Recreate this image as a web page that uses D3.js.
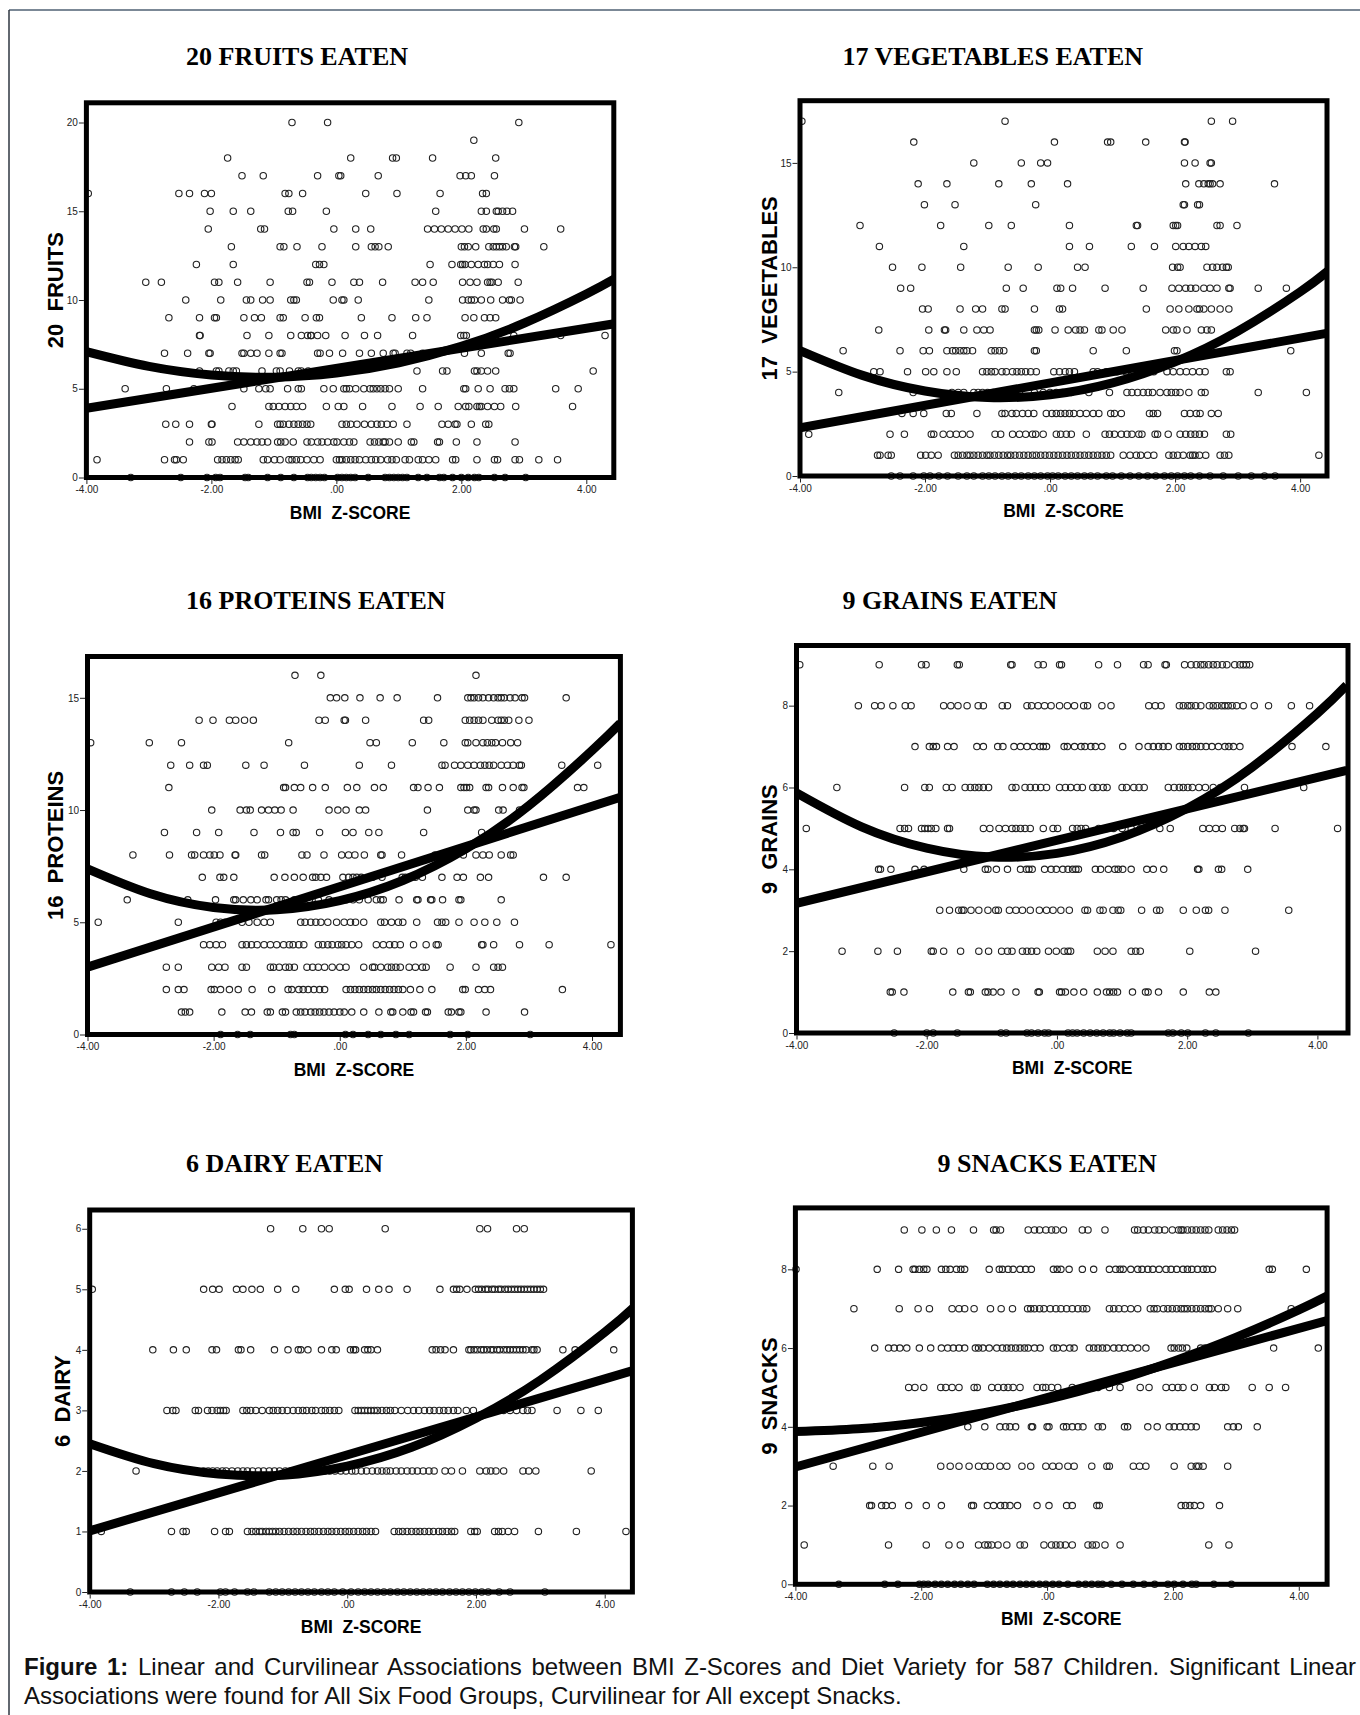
<!DOCTYPE html>
<html>
<head>
<meta charset="utf-8">
<script src="https://cdn.jsdelivr.net/npm/d3@7/dist/d3.min.js"></script>
<style>
  body { margin: 0; background: #fff; }
  svg { display: block; }
</style>
</head>
<body>
<svg id="fig" width="1360" height="1715"></svg>
<script>
// ---- data: each row is [count, [BMI z-scores of children with that count]] ----
const fruitsRows = [
  [20, [-0.71,-0.14,2.92]],
  [19, [2.20]],
  [18, [-1.74,0.23,0.90,0.96,1.54,2.55]],
  [17, [-1.51,-1.17,-0.30,0.04,0.07,0.67,1.98,2.07,2.16,2.53]],
  [16, [-3.97,-2.52,-2.35,-2.11,-2.00,-0.82,-0.76,-0.54,0.47,0.97,1.66,2.34,2.40]],
  [15, [-2.02,-1.65,-1.37,-0.77,-0.70,-0.16,1.59,2.32,2.40,2.56,2.59,2.66,2.73,2.82]],
  [14, [-2.05,-1.21,-1.15,-0.04,0.31,0.55,1.46,1.57,1.68,1.79,1.90,2.01,2.12,2.35,2.40,2.52,2.56,3.01,3.59]],
  [13, [-1.68,-0.90,-0.84,-0.63,-0.23,0.31,0.56,0.62,0.68,0.83,2.00,2.05,2.11,2.23,2.44,2.51,2.56,2.61,2.66,2.72,2.85,2.87,3.32]],
  [12, [-2.24,-1.65,-0.33,-0.27,-0.20,1.50,1.85,1.99,2.02,2.06,2.16,2.27,2.37,2.42,2.51,2.61,2.86]],
  [11, [-3.05,-2.80,-1.95,-1.88,-1.58,-1.06,-0.47,-0.43,-0.07,0.28,0.37,0.74,1.26,1.38,1.55,2.02,2.14,2.25,2.42,2.46,2.49,2.59,2.91]],
  [10, [-2.41,-1.85,-1.44,-1.37,-1.18,-1.06,-0.73,-0.68,-0.64,-0.05,0.09,0.12,0.35,1.48,2.02,2.11,2.16,2.21,2.32,2.47,2.66,2.77,2.80,2.94]],
  [9, [-2.68,-2.19,-1.95,-1.92,-1.48,-1.31,-1.20,-0.90,-0.85,-0.50,-0.32,-0.27,0.40,0.89,1.27,1.45,2.06,2.20,2.37,2.46,2.55]],
  [8, [-2.19,-2.18,-1.43,-1.08,-0.73,-0.56,-0.46,-0.41,-0.40,-0.30,-0.17,0.14,0.45,0.66,1.22,1.99,2.04,2.08,2.49,2.84,3.59,4.30]],
  [7, [-2.75,-2.38,-2.04,-2.02,-1.51,-1.48,-1.37,-1.27,-1.08,-0.90,-0.87,-0.30,-0.26,-0.11,0.10,0.37,0.56,0.75,0.91,0.94,1.13,1.19,1.38,2.05,2.32,2.75,2.78]],
  [6, [-2.19,-1.92,-1.88,-1.72,-1.65,-1.60,-1.19,-0.96,-0.90,-0.75,-0.61,-0.56,-0.45,1.29,1.70,1.77,2.21,2.25,2.32,2.42,2.55,4.11]],
  [5, [-3.38,-2.72,-2.28,-1.48,-1.24,-1.13,-1.06,-0.78,-0.61,-0.56,-0.20,-0.05,0.12,0.16,0.21,0.31,0.44,0.54,0.59,0.65,0.71,0.78,0.85,0.99,1.38,2.04,2.07,2.27,2.46,2.70,2.77,2.84,3.51,3.87]],
  [4, [-1.67,-1.08,-1.01,-0.92,-0.82,-0.73,-0.64,-0.54,-0.16,0.03,0.12,0.42,0.89,1.34,1.63,1.95,2.07,2.12,2.25,2.29,2.32,2.42,2.53,2.63,2.87,3.78]],
  [3, [-2.73,-2.57,-2.35,-2.00,-1.99,-1.24,-0.94,-0.90,-0.85,-0.76,-0.68,-0.61,-0.54,-0.47,-0.41,0.09,0.16,0.23,0.33,0.45,0.56,0.65,0.72,0.81,0.91,1.13,1.69,1.79,1.90,1.93,2.16,2.39,2.44]],
  [2, [-2.35,-2.04,-1.99,-1.58,-1.48,-1.37,-1.27,-1.19,-1.10,-0.94,-0.89,-0.82,-0.69,-0.47,-0.40,-0.30,-0.23,-0.14,-0.04,0.01,0.12,0.21,0.28,0.54,0.61,0.68,0.75,0.78,0.85,0.99,1.20,1.24,1.62,1.65,1.92,2.25,2.86]],
  [1, [-3.83,-2.75,-2.59,-2.56,-2.45,-1.90,-1.83,-1.76,-1.69,-1.62,-1.57,-1.17,-1.10,-0.99,-0.90,-0.76,-0.71,-0.64,-0.57,-0.47,-0.36,-0.26,0.00,0.05,0.09,0.16,0.23,0.30,0.37,0.47,0.56,0.63,0.71,0.82,0.89,0.96,1.10,1.17,1.31,1.38,1.48,1.59,1.86,1.91,2.25,2.53,2.58,2.86,2.93,3.24,3.54]],
  [0, [-3.29,-2.49,-2.07,-1.93,-1.86,-1.46,-1.41,-1.10,-0.89,-0.68,-0.46,-0.40,-0.33,-0.26,-0.19,0.02,0.09,0.16,0.23,0.30,0.51,0.78,0.85,0.92,0.99,1.06,1.13,1.31,1.45,1.65,1.72,1.86,2.00,2.11,2.21,2.28,2.53,2.70,3.03]]
];

const vegRows = [
  [17, [-3.97,-0.72,2.58,2.92]],
  [16, [-2.18,0.07,0.92,0.97,1.53,2.15,2.16]],
  [15, [-1.22,-0.46,-0.15,-0.04,2.15,2.32,2.56,2.58]],
  [14, [-2.11,-1.65,-0.82,-0.30,0.28,2.17,2.38,2.46,2.53,2.56,2.60,2.72,3.59]],
  [13, [-2.01,-1.52,-0.23,2.13,2.15,2.36,2.39]],
  [12, [-3.04,-1.75,-0.98,-0.62,0.31,1.38,1.40,1.97,2.01,2.04,2.67,2.72,2.99]],
  [11, [-2.73,-1.38,0.31,0.63,1.30,1.67,2.01,2.13,2.22,2.32,2.42,2.49]],
  [10, [-2.52,-2.05,-1.43,-0.67,-0.19,0.44,0.56,1.96,2.04,2.08,2.51,2.60,2.67,2.76,2.82,2.85]],
  [9, [-2.39,-2.23,-0.70,-0.43,0.11,0.17,0.36,0.88,1.49,1.95,2.06,2.17,2.25,2.33,2.46,2.56,2.67,2.86,2.88,3.33,3.78]],
  [8, [-2.04,-1.95,-1.44,-1.19,-1.08,-0.77,-0.72,-0.25,0.15,0.20,1.54,1.92,2.06,2.22,2.35,2.39,2.46,2.58,2.72,2.86]],
  [7, [-2.74,-1.94,-1.69,-1.67,-1.38,-1.17,-1.06,-0.96,-0.25,-0.22,-0.18,0.08,0.29,0.41,0.48,0.55,0.78,0.83,1.01,1.15,1.85,1.97,2.03,2.19,2.42,2.51,2.58]],
  [6, [-3.31,-2.40,-2.03,-1.93,-1.65,-1.56,-1.51,-1.44,-1.38,-1.33,-1.24,-0.94,-0.88,-0.81,-0.74,-0.25,-0.22,0.69,1.22,1.99,2.03,3.85]],
  [5, [-2.82,-2.72,-2.28,-1.99,-1.86,-1.65,-1.50,-1.08,-1.01,-0.94,-0.88,-0.77,-0.70,-0.60,-0.53,-0.46,-0.39,-0.31,-0.22,0.06,0.15,0.24,0.31,0.39,0.69,0.76,0.90,0.97,1.07,1.21,1.31,1.42,1.56,1.66,1.87,1.97,2.08,2.18,2.28,2.39,2.48,2.82,2.88]],
  [4, [-3.38,-2.19,-1.57,-1.47,-1.38,-1.22,-1.15,-1.08,-1.00,-0.91,-0.81,-0.70,-0.60,-0.49,-0.25,-0.11,0.00,0.10,0.20,0.34,0.62,0.95,1.23,1.31,1.40,1.49,1.57,1.64,1.76,1.87,1.94,2.01,2.08,2.22,2.42,2.48,3.33,4.10]],
  [3, [-2.37,-2.19,-2.02,-1.66,-1.58,-1.17,-0.77,-0.72,-0.61,-0.54,-0.44,-0.35,-0.26,-0.06,0.03,0.10,0.17,0.24,0.31,0.38,0.48,0.58,0.69,0.78,0.97,1.03,1.14,1.59,1.65,1.72,2.15,2.24,2.34,2.40,2.58,2.69]],
  [2, [-3.86,-2.56,-2.33,-1.90,-1.86,-1.71,-1.60,-1.50,-1.40,-1.28,-0.88,-0.79,-0.60,-0.49,-0.39,-0.28,-0.23,-0.11,0.10,0.17,0.26,0.34,0.58,0.88,0.95,1.03,1.14,1.23,1.31,1.42,1.47,1.68,1.72,1.89,2.08,2.17,2.25,2.32,2.39,2.47,2.82,2.89]],
  [1, [-2.76,-2.72,-2.59,-2.54,-2.07,-1.99,-1.90,-1.79,-1.53,-1.47,-1.40,-1.33,-1.28,-1.22,-1.15,-1.08,-1.01,-0.96,-0.89,-0.82,-0.75,-0.68,-0.63,-0.56,-0.49,-0.42,-0.35,-0.28,-0.22,-0.15,-0.08,-0.01,0.06,0.13,0.20,0.27,0.34,0.41,0.48,0.55,0.62,0.69,0.76,0.83,0.90,0.97,1.17,1.28,1.38,1.45,1.56,1.66,1.90,1.97,2.04,2.13,2.24,2.28,2.32,2.39,2.49,2.72,2.79,2.86,4.30]],
  [0, [-2.54,-2.40,-2.19,-2.02,-1.92,-1.78,-1.64,-1.47,-1.33,-1.22,-1.08,-0.98,-0.88,-0.77,-0.67,-0.56,-0.46,-0.35,-0.25,-0.15,-0.04,0.04,0.13,0.24,0.34,0.44,0.55,0.65,0.76,0.90,1.00,1.14,1.28,1.42,1.56,1.69,1.83,1.94,2.04,2.15,2.25,2.39,2.56,2.77,3.01,3.22,3.43,3.60]]
];

const proteinRows = [
  [16, [-0.71,-0.30,2.16]],
  [15, [-0.15,-0.05,0.08,0.32,0.64,0.91,1.55,2.03,2.08,2.13,2.20,2.27,2.36,2.44,2.51,2.56,2.61,2.70,2.78,2.89,2.93,3.59]],
  [14, [-2.23,-2.01,-1.75,-1.65,-1.51,-1.37,-0.33,-0.23,0.07,0.09,0.41,1.33,1.41,1.99,2.06,2.13,2.20,2.27,2.41,2.51,2.56,2.61,2.68,2.84,3.00]],
  [13, [-3.95,-3.02,-2.51,-0.81,0.48,0.58,1.15,1.65,1.99,2.03,2.16,2.27,2.34,2.41,2.47,2.58,2.71,2.82]],
  [12, [-2.68,-2.38,-2.16,-2.10,-1.49,-1.20,-0.56,0.31,0.82,1.62,1.67,1.82,1.92,2.03,2.13,2.23,2.30,2.37,2.44,2.56,2.66,2.75,2.85,2.88,3.52,4.09]],
  [11, [-2.71,-0.89,-0.86,-0.72,-0.62,-0.43,-0.23,0.12,0.27,0.55,0.69,1.17,1.24,1.40,1.58,1.92,1.97,2.01,2.06,2.32,2.36,2.58,2.75,2.89,2.92,3.77,3.87]],
  [10, [-2.03,-1.58,-1.48,-1.42,-1.24,-1.13,-1.03,-0.93,-0.74,-0.17,-0.03,0.10,0.31,0.41,1.39,2.03,2.13,2.16,2.52,2.59,2.85]],
  [9, [-2.78,-2.27,-1.92,-1.36,-0.94,-0.74,-0.69,-0.32,0.09,0.21,0.46,0.62,1.33,2.25]],
  [8, [-3.28,-2.70,-2.35,-2.30,-2.16,-2.06,-1.99,-1.90,-1.66,-1.65,-1.24,-1.19,-0.60,-0.52,-0.25,0.03,0.14,0.24,0.39,0.65,0.67,0.98,1.51,1.96,2.16,2.27,2.37,2.56,2.71,2.75]],
  [7, [-2.18,-1.90,-1.84,-1.68,-1.04,-0.87,-0.72,-0.58,-0.43,-0.38,-0.30,-0.21,0.05,0.14,0.21,0.27,0.34,0.52,0.67,0.99,1.04,1.10,1.20,1.31,1.62,1.86,1.96,2.23,2.36,3.23,3.59]],
  [6, [-3.37,-2.41,-1.97,-1.68,-1.65,-1.53,-1.41,-1.31,-1.17,-1.13,-1.00,-0.93,-0.86,-0.72,-0.58,-0.48,-0.34,-0.17,0.10,0.21,0.31,0.45,0.58,0.65,0.69,0.94,1.22,1.24,1.44,1.46,1.63,1.89,1.92,2.56]],
  [5, [-3.83,-2.56,-1.96,-1.89,-1.82,-1.55,-1.44,-1.31,-1.20,-1.10,-0.62,-0.55,-0.46,-0.38,-0.30,-0.19,-0.05,0.07,0.17,0.25,0.38,0.65,0.71,0.82,0.93,1.00,1.22,1.55,1.62,1.68,1.89,2.13,2.30,2.49,2.77]],
  [4, [-2.16,-2.06,-1.96,-1.86,-1.55,-1.48,-1.40,-1.31,-1.20,-1.10,-1.00,-0.89,-0.80,-0.74,-0.65,-0.57,-0.34,-0.27,-0.19,-0.12,-0.03,0.03,0.10,0.19,0.30,0.58,0.69,0.79,0.87,0.96,1.17,1.37,1.53,1.56,2.25,2.27,2.44,2.85,3.32,4.30]],
  [3, [-2.75,-2.56,-2.03,-1.92,-1.82,-1.55,-1.48,-1.10,-1.05,-0.96,-0.86,-0.80,-0.72,-0.52,-0.43,-0.34,-0.24,-0.12,0.00,0.10,0.38,0.52,0.55,0.65,0.76,0.82,0.89,0.96,1.10,1.20,1.31,1.37,1.75,2.16,2.44,2.51,2.58]],
  [2, [-2.75,-2.56,-2.47,-2.04,-1.99,-1.89,-1.75,-1.61,-1.39,-1.08,-0.82,-0.76,-0.65,-0.58,-0.50,-0.41,-0.32,-0.24,0.10,0.17,0.24,0.31,0.38,0.45,0.52,0.58,0.65,0.72,0.79,0.86,0.93,1.00,1.12,1.27,1.46,1.95,1.99,2.20,2.30,2.39,3.53]],
  [1, [-2.51,-2.45,-2.38,-1.87,-1.50,-1.40,-1.15,-1.10,-0.91,-0.86,-0.69,-0.62,-0.55,-0.46,-0.39,-0.32,-0.25,-0.17,-0.09,0.00,0.07,0.19,0.38,0.62,0.81,0.84,1.00,1.13,1.17,1.36,1.39,1.72,1.77,1.89,1.92,2.32,2.93]],
  [0, [-1.89,-1.62,-1.42,-0.78,-0.72,0.09,0.21,0.45,0.65,0.89,1.10,1.75,2.03,3.02]]
];

const grainRows = [
  [9, [-3.95,-2.73,-2.08,-2.01,-1.53,-1.50,-0.71,-0.69,-0.29,-0.21,0.04,0.07,0.64,0.93,1.33,1.40,1.66,1.68,1.96,2.06,2.14,2.21,2.26,2.33,2.40,2.46,2.54,2.61,2.73,2.81,2.86,2.91,2.96]],
  [8, [-3.05,-2.80,-2.70,-2.52,-2.33,-2.24,-1.74,-1.63,-1.52,-1.38,-1.21,-1.13,-0.84,-0.76,-0.46,-0.39,-0.29,-0.19,-0.09,0.04,0.16,0.27,0.41,0.47,0.69,0.83,1.41,1.51,1.60,1.88,1.94,2.01,2.06,2.13,2.21,2.34,2.40,2.46,2.53,2.58,2.63,2.69,2.76,2.86,3.03,3.25,3.60,3.88]],
  [7, [-2.18,-1.96,-1.90,-1.85,-1.68,-1.58,-1.23,-1.13,-0.91,-0.83,-0.66,-0.56,-0.46,-0.36,-0.26,-0.21,-0.16,0.11,0.16,0.27,0.37,0.43,0.52,0.59,0.69,1.01,1.26,1.40,1.48,1.56,1.63,1.71,1.88,1.94,2.01,2.08,2.14,2.21,2.29,2.38,2.48,2.58,2.64,2.71,2.81,3.61,4.13]],
  [6, [-3.38,-2.34,-2.03,-1.96,-1.70,-1.61,-1.41,-1.33,-1.26,-1.20,-1.13,-1.05,-0.69,-0.63,-0.49,-0.41,-0.33,-0.25,-0.16,0.04,0.13,0.21,0.31,0.39,0.55,0.62,0.71,0.77,1.00,1.07,1.18,1.26,1.34,1.71,1.80,1.88,1.94,2.01,2.08,2.18,2.28,2.40,2.51,2.88,3.79]],
  [5, [-3.85,-2.41,-2.34,-2.28,-2.08,-2.03,-1.98,-1.93,-1.86,-1.68,-1.65,-1.13,-1.03,-0.89,-0.79,-0.69,-0.63,-0.56,-0.49,-0.41,-0.21,-0.06,0.01,0.24,0.31,0.37,0.44,0.64,0.77,0.87,1.00,1.14,1.28,1.58,1.74,2.24,2.34,2.44,2.54,2.73,2.81,2.86,2.88,3.35,4.31]],
  [4, [-2.74,-2.71,-2.55,-2.18,-2.04,-1.43,-1.10,-1.06,-0.93,-0.76,-0.56,-0.47,-0.43,-0.38,-0.19,-0.09,-0.01,0.09,0.17,0.24,0.29,0.33,0.59,0.67,0.79,0.89,0.94,1.01,1.14,1.38,1.48,1.64,2.16,2.18,2.48,2.53,2.93]],
  [3, [-1.80,-1.65,-1.51,-1.46,-1.43,-1.32,-1.20,-1.06,-0.94,-0.90,-0.73,-0.63,-0.53,-0.41,-0.27,-0.16,-0.06,0.06,0.19,0.43,0.47,0.66,0.71,0.86,0.94,0.98,1.30,1.53,1.58,1.94,2.14,2.28,2.33,2.58,3.56]],
  [2, [-3.30,-2.75,-2.45,-1.93,-1.90,-1.74,-1.48,-1.20,-1.05,-0.85,-0.76,-0.69,-0.53,-0.46,-0.39,-0.31,-0.13,-0.01,0.11,0.17,0.21,0.62,0.74,0.86,1.14,1.21,1.28,2.04,3.05]],
  [1, [-2.56,-2.53,-2.35,-1.60,-1.36,-1.33,-1.10,-1.06,-0.98,-0.86,-0.63,-0.29,-0.27,0.04,0.07,0.13,0.26,0.41,0.62,0.76,0.81,0.87,0.93,1.16,1.36,1.40,1.56,1.94,2.34,2.44]],
  [0, [-2.50,-2.00,-1.90,-1.53,-0.86,-0.78,-0.46,-0.39,-0.29,-0.19,-0.13,0.17,0.24,0.31,0.41,0.51,0.61,0.71,0.81,0.87,0.97,1.08,1.14,1.71,1.78,1.91,2.01,2.28,2.44,2.94]]
];

const dairyRows = [
  [6, [-1.19,-0.69,-0.40,-0.28,0.59,2.06,2.18,2.63,2.75]],
  [5, [-3.96,-2.23,-2.09,-1.99,-1.72,-1.62,-1.48,-1.35,-1.08,-0.80,-0.20,-0.03,0.03,0.30,0.49,0.65,0.93,1.44,1.65,1.70,1.75,1.86,1.99,2.04,2.09,2.15,2.19,2.25,2.29,2.35,2.39,2.45,2.50,2.55,2.60,2.65,2.70,2.75,2.80,2.85,2.90,2.95,3.00,3.05]],
  [4, [-3.02,-2.70,-2.50,-2.10,-2.03,-1.69,-1.65,-1.50,-1.13,-0.92,-0.76,-0.72,-0.61,-0.40,-0.24,-0.17,0.05,0.10,0.13,0.27,0.32,0.37,0.47,1.32,1.38,1.45,1.52,1.65,1.89,1.92,1.97,2.02,2.08,2.12,2.17,2.23,2.27,2.33,2.37,2.43,2.48,2.53,2.58,2.63,2.68,2.73,2.78,2.87,2.90,2.95,3.35,3.54,4.14]],
  [3, [-2.80,-2.71,-2.66,-2.36,-2.31,-2.17,-2.10,-2.02,-1.97,-1.92,-1.88,-1.62,-1.56,-1.50,-1.42,-1.32,-1.21,-1.15,-1.08,-1.01,-0.93,-0.84,-0.76,-0.69,-0.63,-0.55,-0.49,-0.40,-0.34,-0.27,-0.20,-0.13,0.12,0.17,0.22,0.27,0.32,0.37,0.42,0.47,0.54,0.61,0.67,0.74,0.84,0.94,1.03,1.11,1.20,1.28,1.35,1.43,1.50,1.57,1.65,1.72,1.85,1.96,2.33,2.43,2.53,2.63,2.73,2.80,2.87,3.26,3.63,3.90]],
  [2, [-3.28,-2.23,-2.16,-2.09,-2.02,-1.94,-1.88,-1.79,-1.70,-1.62,-1.55,-1.47,-1.38,-1.30,-1.21,-1.13,-1.05,-0.96,-0.88,-0.80,-0.71,-0.62,-0.54,-0.44,-0.35,-0.27,-0.19,-0.10,-0.02,0.07,0.13,0.22,0.30,0.39,0.47,0.54,0.61,0.67,0.76,0.84,0.93,1.01,1.09,1.18,1.27,1.35,1.52,1.62,1.79,2.06,2.16,2.23,2.31,2.43,2.73,2.82,2.93,3.79]],
  [1, [-3.82,-2.73,-2.55,-2.50,-2.06,-1.89,-1.83,-1.55,-1.48,-1.42,-1.36,-1.32,-1.26,-1.21,-1.16,-1.11,-1.05,-0.98,-0.91,-0.84,-0.78,-0.71,-0.64,-0.57,-0.51,-0.44,-0.37,-0.30,-0.24,-0.17,-0.10,-0.03,0.03,0.10,0.17,0.24,0.30,0.37,0.44,0.73,0.80,0.86,0.93,1.00,1.07,1.13,1.20,1.27,1.34,1.42,1.48,1.55,1.62,1.67,1.92,1.98,2.02,2.29,2.35,2.41,2.50,2.60,2.97,3.56,4.33]],
  [0, [-3.37,-2.73,-2.53,-2.33,-1.97,-1.89,-1.75,-1.55,-1.45,-1.21,-1.11,-1.01,-0.91,-0.81,-0.71,-0.61,-0.51,-0.40,-0.30,-0.20,-0.07,0.06,0.17,0.27,0.37,0.47,0.57,0.67,0.78,0.88,0.98,1.08,1.18,1.28,1.38,1.48,1.59,1.69,1.79,1.89,1.99,2.09,2.19,2.36,2.53,3.07]]
];

const snackRows = [
  [9, [-2.27,-1.99,-1.76,-1.52,-1.17,-0.85,-0.81,-0.74,-0.30,-0.20,-0.12,-0.02,0.07,0.14,0.26,0.56,0.65,0.92,1.39,1.44,1.53,1.61,1.71,1.78,1.87,1.99,2.09,2.13,2.16,2.23,2.30,2.37,2.44,2.51,2.57,2.72,2.79,2.86,2.93,2.98]],
  [8, [-3.99,-2.70,-2.36,-2.13,-2.10,-2.03,-1.96,-1.91,-1.68,-1.61,-1.54,-1.44,-1.37,-1.31,-0.92,-0.76,-0.71,-0.62,-0.54,-0.43,-0.34,-0.25,0.10,0.16,0.22,0.35,0.56,0.74,0.99,1.09,1.16,1.21,1.33,1.44,1.51,1.60,1.68,1.78,1.89,1.97,2.06,2.16,2.23,2.30,2.39,2.48,2.54,2.63,3.53,3.58,4.12]],
  [7, [-3.07,-2.35,-2.05,-1.87,-1.51,-1.40,-1.31,-1.16,-0.90,-0.73,-0.55,-0.31,-0.26,-0.20,-0.12,-0.05,0.05,0.14,0.22,0.31,0.40,0.49,0.57,0.63,0.99,1.06,1.14,1.23,1.33,1.44,1.64,1.70,1.75,1.85,1.92,1.99,2.06,2.13,2.18,2.23,2.30,2.37,2.44,2.51,2.57,2.61,2.72,2.87,3.03,3.88]],
  [6, [-2.74,-2.52,-2.43,-2.34,-2.23,-2.03,-1.85,-1.68,-1.58,-1.49,-1.40,-1.31,-1.14,-1.09,-1.02,-0.92,-0.80,-0.71,-0.64,-0.57,-0.50,-0.43,-0.36,-0.30,-0.20,-0.11,0.10,0.16,0.26,0.36,0.43,0.67,0.74,0.81,0.88,0.95,1.06,1.14,1.23,1.33,1.44,1.57,1.97,2.02,2.09,2.15,2.22,2.44,2.51,3.60,4.31]],
  [5, [-2.20,-2.10,-1.96,-1.69,-1.61,-1.51,-1.40,-1.16,-1.11,-0.88,-0.78,-0.69,-0.62,-0.54,-0.43,-0.16,-0.07,-0.02,0.07,0.17,0.40,0.64,0.74,0.81,0.99,1.16,1.48,1.62,1.89,1.99,2.08,2.16,2.34,2.58,2.66,2.77,2.84,3.26,3.53,3.79]],
  [4, [-2.73,-1.26,-0.99,-0.75,-0.66,-0.59,-0.50,-0.25,-0.23,0.00,0.03,0.26,0.31,0.40,0.49,0.57,0.81,0.88,1.23,1.28,1.60,1.75,1.94,2.02,2.11,2.20,2.29,2.37,2.87,2.96,3.04,3.34]],
  [3, [-3.40,-2.77,-2.51,-1.69,-1.54,-1.40,-1.24,-1.09,-0.99,-0.90,-0.75,-0.64,-0.40,-0.26,-0.02,0.09,0.19,0.33,0.43,0.71,0.95,0.99,1.37,1.47,1.57,2.02,2.29,2.37,2.41,2.48,2.87]],
  [2, [-2.82,-2.79,-2.63,-2.56,-2.46,-2.20,-1.92,-1.68,-1.20,-1.17,-0.95,-0.85,-0.74,-0.67,-0.59,-0.47,-0.16,0.03,0.31,0.40,0.79,0.83,2.13,2.20,2.27,2.34,2.44,2.74]],
  [1, [-3.86,-2.52,-1.92,-1.56,-1.38,-1.09,-0.99,-0.94,-0.88,-0.78,-0.64,-0.43,-0.36,-0.05,0.07,0.14,0.21,0.29,0.40,0.65,0.72,0.78,0.92,1.16,2.57,2.89]],
  [0, [-3.31,-2.58,-2.37,-2.03,-1.96,-1.89,-1.78,-1.68,-1.58,-1.47,-1.37,-1.26,-1.16,-0.95,-0.85,-0.75,-0.64,-0.54,-0.43,-0.33,-0.23,-0.12,-0.02,0.09,0.19,0.33,0.50,0.61,0.71,0.81,0.88,1.02,1.19,1.37,1.54,1.71,1.92,2.02,2.16,2.30,2.37,2.65,2.93]]
];

// fitted curves
const fitX = [-4, -3, -2, -1, 0, 1, 2, 3, 4, 4.45];
const linX = [-4, 4.45];
const fruitsQuad = [7.09, 6.26, 5.78, 5.65, 5.88, 6.46, 7.39, 8.69, 10.34, 11.19];
const fruitsLin = [3.9, 8.66];
const vegQuad = [6.01, 4.82, 4.07, 3.76, 3.89, 4.46, 5.47, 6.93, 8.82, 9.83];
const vegLin = [2.31, 6.85];
const proteinQuad = [7.38, 6.27, 5.66, 5.56, 5.96, 6.86, 8.27, 10.20, 12.65, 13.87];
const proteinLin = [3.0, 10.57];
const grainQuad = [5.87, 5.04, 4.52, 4.30, 4.39, 4.79, 5.49, 6.50, 7.81, 8.50];
const grainLin = [3.17, 6.42];
const dairyQuad = [2.45, 2.12, 1.95, 1.93, 2.08, 2.39, 2.87, 3.50, 4.29, 4.70];
const dairyLin = [1.01, 3.66];
const snackQuad = [3.88, 3.95, 4.11, 4.36, 4.70, 5.13, 5.66, 6.27, 6.97, 7.32];
const snackLin = [2.98, 6.70];

const xTicks = [-4, -2, 0, 2, 4];
const xTickLabels = ["-4.00", "-2.00", ".00", "2.00", "4.00"];
const titles = ["20 FRUITS EATEN", "17 VEGETABLES EATEN", "16 PROTEINS EATEN", "9 GRAINS EATEN", "6 DAIRY EATEN", "9 SNACKS EATEN"];
const yLabels = ["20  FRUITS", "17  VEGETABLES", "16  PROTEINS", "9  GRAINS", "6  DAIRY", "9  SNACKS"];
const xLabel = "BMI  Z-SCORE";
const captionLine1 = "Linear and Curvilinear Associations between BMI Z-Scores and Diet Variety for 587 Children. Significant Linear";
const captionLine2 = "Associations were found for All Six Food Groups, Curvilinear for All except Snacks.";

// ---- layout ----
const panels = [
  { rows: fruitsRows, quad: fruitsQuad, lin: fruitsLin, yTicks: [0, 5, 10, 15, 20], ymax: 21.11, xmax: 4.44,
    box: { l: 86.4, t: 102.8, r: 613.8, b: 477.5 }, titleX: 186, titleY: 65, ylabX: 54.7 },
  { rows: vegRows, quad: vegQuad, lin: vegLin, yTicks: [0, 5, 10, 15], ymax: 17.98, xmax: 4.43,
    box: { l: 800, t: 100.7, r: 1327, b: 476 }, titleX: 842.5, titleY: 65, ylabX: 769.2 },
  { rows: proteinRows, quad: proteinQuad, lin: proteinLin, yTicks: [0, 5, 10, 15], ymax: 16.84, xmax: 4.45,
    box: { l: 87.5, t: 656.5, r: 620.4, b: 1034.5 }, titleX: 186, titleY: 609, ylabX: 54.7 },
  { rows: grainRows, quad: grainQuad, lin: grainLin, yTicks: [0, 2, 4, 6, 8], ymax: 9.47, xmax: 4.47,
    box: { l: 796.5, t: 645.5, r: 1348, b: 1033 }, titleX: 842.5, titleY: 609, ylabX: 769.2 },
  { rows: dairyRows, quad: dairyQuad, lin: dairyLin, yTicks: [0, 1, 2, 3, 4, 5, 6], ymax: 6.31, xmax: 4.43,
    box: { l: 89.7, t: 1210, r: 632.4, b: 1592 }, titleX: 186, titleY: 1172, ylabX: 62.4 },
  { rows: snackRows, quad: snackQuad, lin: snackLin, yTicks: [0, 2, 4, 6, 8], ymax: 9.56, xmax: 4.45,
    box: { l: 795.4, t: 1207.9, r: 1327.1, b: 1584.3 }, titleX: 937.6, titleY: 1172, ylabX: 769.2 }
];

const svg = d3.select("#fig");
const sans = "'Liberation Sans', Arial, sans-serif";

// page border (top and left only)
svg.append("line").attr("x1", 9).attr("y1", 10).attr("x2", 1360).attr("y2", 10)
  .attr("stroke", "#7b8896").attr("stroke-width", 2);
svg.append("line").attr("x1", 9).attr("y1", 10).attr("x2", 9).attr("y2", 1715)
  .attr("stroke", "#2e3640").attr("stroke-width", 1.5);

panels.forEach((p, i) => {
  const b = p.box;
  const x = d3.scaleLinear().domain([-4, p.xmax]).range([b.l, b.r]);
  const y = d3.scaleLinear().domain([0, p.ymax]).range([b.b, b.t]);
  const g = svg.append("g");

  g.append("clipPath").attr("id", "clip" + i)
    .append("rect").attr("x", b.l).attr("y", b.t).attr("width", b.r - b.l).attr("height", b.b - b.t);

  // title
  g.append("text").attr("x", p.titleX).attr("y", p.titleY)
    .style("font-family", "'Liberation Serif', 'Times New Roman', serif")
    .style("font-weight", "bold").style("font-size", "26px")
    .text(titles[i]);

  // scatter points
  const pts = p.rows.flatMap(([v, xs]) => xs.map(xv => ({ x: xv, y: v })));
  g.append("g").selectAll("circle").data(pts).join("circle")
    .attr("cx", d => x(d.x)).attr("cy", d => y(d.y)).attr("r", 3.2)
    .attr("fill", "none").attr("stroke", "#222").attr("stroke-width", 1.1);

  // fit lines
  const curve = d3.line().x(d => x(d[0])).y(d => y(d[1])).curve(d3.curveNatural);
  const straight = d3.line().x(d => x(d[0])).y(d => y(d[1]));
  const fits = g.append("g").attr("clip-path", `url(#clip${i})`);
  fits.append("path").datum(d3.zip(fitX, p.quad)).attr("d", curve)
    .attr("fill", "none").attr("stroke", "#000").attr("stroke-width", 9);
  fits.append("path").datum(d3.zip(linX, p.lin)).attr("d", straight)
    .attr("fill", "none").attr("stroke", "#000").attr("stroke-width", 9);

  // frame
  g.append("rect").attr("x", b.l).attr("y", b.t).attr("width", b.r - b.l).attr("height", b.b - b.t)
    .attr("fill", "none").attr("stroke", "#000").attr("stroke-width", 5);

  // axes
  const xa = g.append("g").attr("transform", `translate(0,${b.b + 2.5})`)
    .call(d3.axisBottom(x).tickValues(xTicks).tickSize(4).tickPadding(2).tickSizeOuter(0)
      .tickFormat((d, k) => xTickLabels[k]));
  const ya = g.append("g").attr("transform", `translate(${b.l - 2.5},0)`)
    .call(d3.axisLeft(y).tickValues(p.yTicks).tickSize(5).tickPadding(1).tickSizeOuter(0)
      .tickFormat(d3.format("d")));
  [xa, ya].forEach(a => {
    a.select(".domain").remove();
    a.selectAll("line").attr("stroke", "#222");
    a.selectAll("text").attr("fill", "#222").style("font-family", sans).style("font-size", "10px");
  });

  // axis titles
  g.append("text").attr("x", (b.l + b.r) / 2).attr("y", b.b + 41)
    .attr("text-anchor", "middle").style("font-family", sans)
    .style("font-weight", "bold").style("font-size", "17.5px").style("white-space", "pre")
    .text(xLabel);
  g.append("text")
    .attr("transform", `translate(${p.ylabX + 8},${(b.t + b.b) / 2}) rotate(-90)`)
    .attr("text-anchor", "middle").style("font-family", sans)
    .style("font-weight", "bold").style("font-size", "22px").style("white-space", "pre")
    .text(yLabels[i]);
});

// caption, first line justified
const cap1 = svg.append("text").attr("x", 24).attr("y", 1675)
  .style("font-family", sans).style("font-size", "24px").attr("fill", "#111");
cap1.append("tspan").style("font-weight", "bold").text("Figure 1:");
cap1.append("tspan").text(" " + captionLine1);
const natural = cap1.node().getComputedTextLength();
const gaps = ("Figure 1: " + captionLine1).split(" ").length - 1;
cap1.style("word-spacing", Math.max(0, (1356 - 24 - natural) / gaps) + "px");

svg.append("text").attr("x", 24).attr("y", 1704)
  .style("font-family", sans).style("font-size", "24px").attr("fill", "#111")
  .text(captionLine2);
</script>
</body>
</html>
